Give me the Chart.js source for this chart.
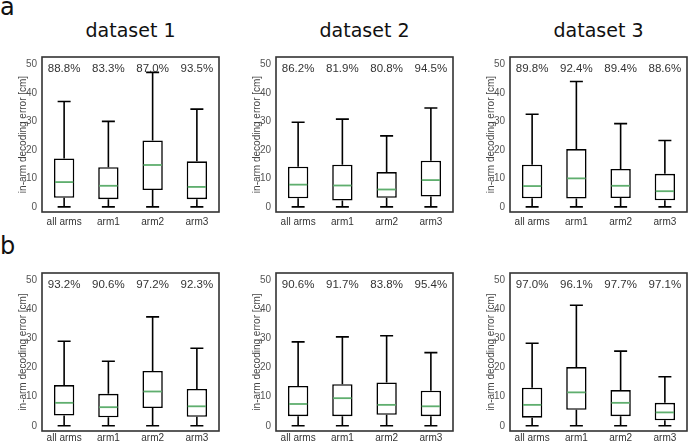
<!DOCTYPE html>
<html>
<head>
<meta charset="utf-8">
<script src="https://cdn.jsdelivr.net/npm/chart.js@4.4.0/dist/chart.umd.min.js"></script>
<style>
  html, body { margin: 0; padding: 0; background: #fff; }
  body { width: 689px; height: 442px; position: relative; overflow: hidden; }
  canvas { position: absolute; }
  .lbl { position: absolute; font-family: 'DejaVu Sans', sans-serif; color: #111; white-space: nowrap; }
</style>
</head>
<body>
<div class="lbl" style="left:0;top:-5px;font-size:24px;line-height:24px">a</div>
<div class="lbl" style="left:0;top:234px;font-size:24px;line-height:24px">b</div>
<script>
var categories = ['all arms', 'arm1', 'arm2', 'arm3'];
var datasetNames = ['dataset 1', 'dataset 2', 'dataset 3'];
var yTicks = [0, 10, 20, 30, 40, 50];
var yTitle = 'in-arm decoding error [cm]';

// one row per panel: a1, a2, a3, b1, b2, b3
var whiskerLow = [
    [0, 0, 0, 0], [0, 0, 0, 0], [0, 0, 0, 0],
    [0, 0, 0, 0], [0, 0, 0, 0], [0, 0, 0, 0]
];
var q1 = [
    [3.2, 2.7, 5.9, 2.7], [3.0, 2.2, 3.2, 3.6], [3.0, 2.9, 3.1, 2.3],
    [3.5, 2.9, 6.1, 3.1], [3.3, 3.3, 3.8, 3.3], [2.8, 5.5, 3.3, 1.9]
];
var median = [
    [8.7, 7.4, 14.7, 7.0], [7.8, 7.5, 6.1, 9.4], [7.3, 10.0, 7.4, 5.5],
    [7.9, 6.4, 11.8, 6.7], [7.5, 9.5, 7.2, 6.7], [7.2, 11.5, 7.9, 4.6]
];
var q3 = [
    [17.0, 13.9, 23.3, 16.0], [14.1, 14.8, 12.2, 16.2], [14.8, 20.3, 13.3, 11.6],
    [14.0, 11.0, 18.9, 12.7], [13.7, 14.3, 14.9, 12.1], [13.1, 20.2, 12.3, 7.9]
];
var whiskerHigh = [
    [37.0, 30.0, 47.2, 34.3], [29.7, 30.8, 24.9, 34.7], [32.5, 44.0, 29.2, 23.3],
    [29.1, 22.2, 37.5, 26.7], [28.9, 30.6, 31.0, 25.2], [28.4, 41.5, 25.7, 16.9]
];
var accuracy = [
    [88.8, 83.3, 87.0, 93.5], [86.2, 81.9, 80.8, 94.5], [89.8, 92.4, 89.4, 88.6],
    [93.2, 90.6, 97.2, 92.3], [90.6, 91.7, 83.8, 95.4], [97.0, 96.1, 97.7, 97.1]
];

// layout
var frameLefts = [42, 276, 510], frameW = 177;
var rowTops = [54, 270], rowBottoms = [212, 431];
var xLabelPad = [4, 1];
var labelLevel = 48.6;
var sansFont = "'Liberation Sans', Arial, sans-serif";

function boxParts(k){
    return {
        id: 'boxParts' + k,
        afterDatasetsDraw: function(chart){
            var ctx = chart.ctx, x = chart.scales.x, y = chart.scales.y;
            var bars = chart.getDatasetMeta(0).data;
            ctx.save();
            for(var i = 0; i < categories.length; i++){
                var cx = x.getPixelForValue(i), w = bars[i].width;
                var cap = 6.5;
                ctx.strokeStyle = '#000';
                ctx.lineWidth = 1.6;
                ctx.beginPath();
                ctx.moveTo(cx, y.getPixelForValue(q3[k][i]));
                ctx.lineTo(cx, y.getPixelForValue(whiskerHigh[k][i]));
                ctx.moveTo(cx - cap, y.getPixelForValue(whiskerHigh[k][i]));
                ctx.lineTo(cx + cap, y.getPixelForValue(whiskerHigh[k][i]));
                ctx.moveTo(cx, y.getPixelForValue(q1[k][i]));
                ctx.lineTo(cx, y.getPixelForValue(whiskerLow[k][i]));
                ctx.moveTo(cx - cap, y.getPixelForValue(whiskerLow[k][i]));
                ctx.lineTo(cx + cap, y.getPixelForValue(whiskerLow[k][i]));
                ctx.stroke();

                ctx.beginPath();
                ctx.strokeStyle = '#5fae6e';
                ctx.lineWidth = 1.8;
                ctx.moveTo(cx - w / 2 + 1, y.getPixelForValue(median[k][i]));
                ctx.lineTo(cx + w / 2 - 1, y.getPixelForValue(median[k][i]));
                ctx.stroke();

                ctx.fillStyle = '#333';
                ctx.font = '11.5px ' + sansFont;
                ctx.textAlign = 'center';
                ctx.textBaseline = 'middle';
                ctx.fillText(accuracy[k][i].toFixed(1) + '%', cx, y.getPixelForValue(labelLevel));
            }
            ctx.restore();
        },
        afterDraw: function(chart){
            var a = chart.chartArea, ctx = chart.ctx;
            ctx.save();
            ctx.strokeStyle = '#333';
            ctx.lineWidth = 1.6;
            ctx.strokeRect(a.left, a.top, a.right - a.left, a.bottom - a.top);
            ctx.restore();
        }
    };
}

function panel(k){
    var row = Math.floor(k / 3), col = k % 3;
    var L = frameLefts[col], T = rowTops[row], B = rowBottoms[row];
    var cv = document.createElement('canvas');
    cv.width = frameW + 46;
    cv.height = (B - T) + 32;
    cv.style.left = (L - 42) + 'px';
    cv.style.top = (T - 8) + 'px';
    document.body.appendChild(cv);

    new Chart(cv, {
        type: 'bar',
        data: {
            labels: categories,
            datasets: [{
                data: q1[k].map(function(v, i){ return [v, q3[k][i]]; }),
                backgroundColor: '#fff',
                borderColor: '#000',
                borderWidth: 1.6,
                borderSkipped: false,
                barPercentage: 0.46,
                categoryPercentage: 1
            }]
        },
        options: {
            responsive: false,
            animation: false,
            devicePixelRatio: 1,
            layout: { padding: { left: 0, top: 8, right: 4, bottom: 0 } },
            plugins: { legend: { display: false }, tooltip: { enabled: false } },
            scales: {
                x: {
                    offset: true,
                    grid: { display: false, drawTicks: false },
                    border: { display: false },
                    ticks: { color: '#333', font: { family: sansFont, size: 10 }, padding: xLabelPad[row], maxRotation: 0 },
                    afterFit: function(s){ s.height = 24; }
                },
                y: {
                    min: -1.8,
                    max: 52.6,
                    grid: { display: false, drawTicks: false },
                    border: { display: false },
                    ticks: { color: '#555', font: { family: sansFont, size: 10 }, padding: 5 },
                    afterBuildTicks: function(s){ s.ticks = yTicks.map(function(v){ return { value: v }; }); },
                    afterFit: function(s){ s.width = 42; },
                    title: {
                        display: true,
                        text: yTitle,
                        color: '#444',
                        font: { family: sansFont, size: 10 },
                        padding: { top: 17, bottom: 0 }
                    }
                }
            }
        },
        plugins: [boxParts(k)]
    });

    if(row == 0){
        var t = document.createElement('div');
        t.className = 'lbl';
        t.textContent = datasetNames[col];
        t.style.left = L + 'px';
        t.style.width = frameW + 'px';
        t.style.textAlign = 'center';
        t.style.top = '21px';
        t.style.fontSize = '19px';
        t.style.lineHeight = '19px';
        document.body.appendChild(t);
    }
}

for(var k = 0; k < 6; k++){
    panel(k);
}
</script>
</body>
</html>
